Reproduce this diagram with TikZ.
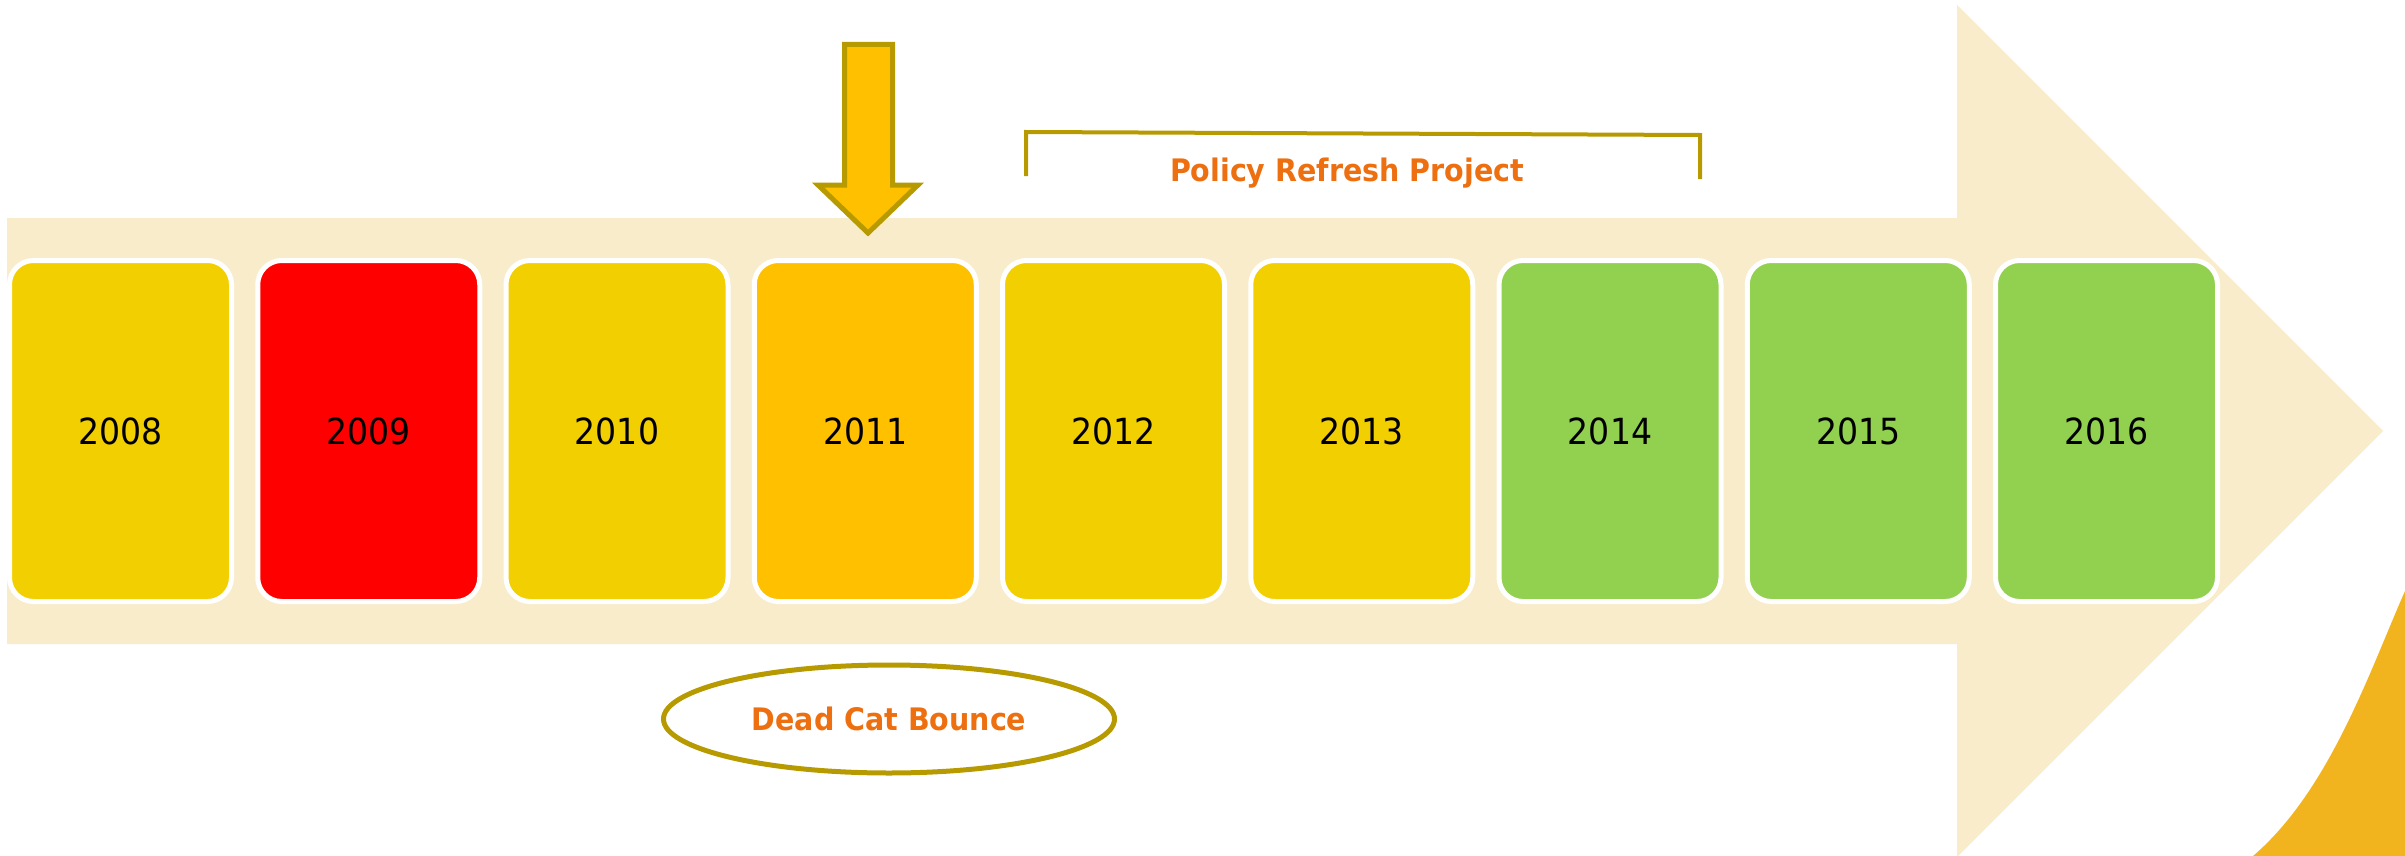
\documentclass[tikz,border=0pt]{standalone}
\usepackage{fontspec}
\setmainfont{DejaVu Sans}[FakeStretch=0.92]
\usetikzlibrary{shapes.geometric}

\definecolor{shaftbeige}{HTML}{F9ECCB}
\definecolor{yearyellow}{HTML}{F2CF00}
\definecolor{yearred}{HTML}{FF0000}
\definecolor{yearorange}{HTML}{FFC000}
\definecolor{yeargreen}{HTML}{92D050}
\definecolor{markolive}{HTML}{B79A00}
\definecolor{noteorange}{HTML}{EE6F10}
\definecolor{cornergold}{HTML}{F2B41E}

\begin{document}
\begin{tikzpicture}[x=1pt, y=-1pt,
	year/.style={draw=white, line width=5pt, rounded corners=24pt,
		minimum width=222pt, minimum height=341pt, inner sep=0pt,
		font=\fontsize{36}{40}\selectfont},
	note/.style={text=noteorange, font=\bfseries\fontsize{31}{36}\selectfont}]

	\fill[white] (0,0) rectangle (2405,856);
	\useasboundingbox (0,0) rectangle (2405,856);

	% timeline arrow
	\fill[shaftbeige] (7,218) -- (1957,218) -- (1957,5) -- (2383,431)
			-- (1957,857) -- (1957,644) -- (7,644) -- cycle;

	\fill[cornergold] (2405,591) .. controls (2370,670) and (2330,790) .. (2253,856)
			-- (2405,856) -- cycle;

	\node[year, fill=yearyellow] (y2008) at (120.5,431) {2008};
	\node[year, fill=yearred] (y2009) at (368.75,431) {2009};
	\node[year, fill=yearyellow] (y2010) at (617,431) {2010};
	\node[year, fill=yearorange] (y2011) at (865.25,431) {2011};
	\node[year, fill=yearyellow] (y2012) at (1113.5,431) {2012};
	\node[year, fill=yearyellow] (y2013) at (1361.75,431) {2013};
	\node[year, fill=yeargreen] (y2014) at (1610,431) {2014};
	\node[year, fill=yeargreen] (y2015) at (1858.25,431) {2015};
	\node[year, fill=yeargreen] (y2016) at (2106.5,431) {2016};

	% pointer over 2011
	\draw[markolive, line width=5pt, fill=yearorange] (844.5,44.5) -- (892.5,44.5)
			-- (892.5,185) -- (918,185) -- (868,233) -- (818,185)
			-- (844.5,185) -- cycle;

	% bracket
	\draw[markolive, line width=4pt] (1026,176) -- (1026,132) -- (1700,135) -- (1700,179);
	\node[note] (policy) at (1347,173) {Policy Refresh Project};

	\node[note, ellipse, draw=markolive, line width=5pt, fill=white,
		minimum width=451pt, minimum height=108pt] (bounce) at (889,719) {Dead Cat Bounce};
\end{tikzpicture}
\end{document}
